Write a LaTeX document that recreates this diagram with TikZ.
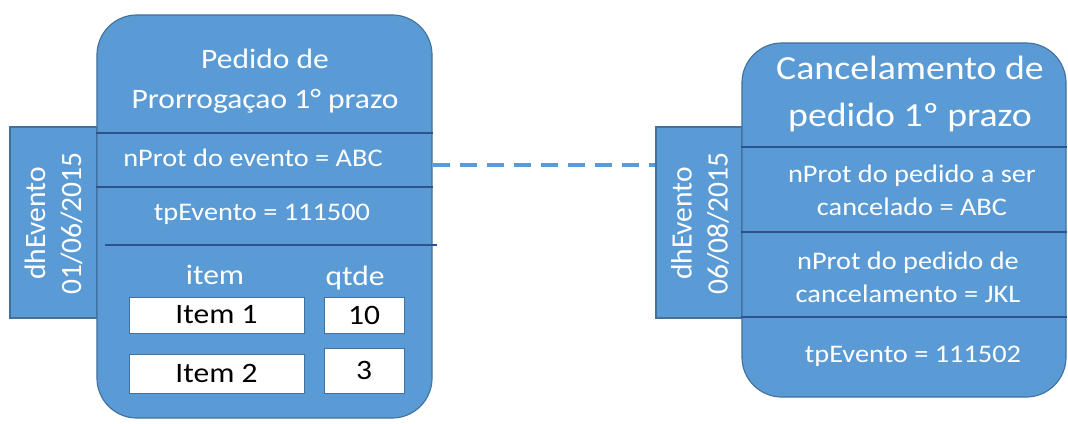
\documentclass[tikz,border=0pt]{standalone}
\usepackage{fontspec}
\setmainfont[FakeStretch=1.12]{Carlito}
\newfontfamily\sidefont{Carlito}
\usepackage{tikz}
\usetikzlibrary{calc}
\definecolor{boxblue}{HTML}{5B9BD5}
\definecolor{edgeblue}{HTML}{41719C}
\definecolor{lineblue}{HTML}{2F528F}
\tikzstyle{evbox} = [rectangle, draw=edgeblue, fill=boxblue, rounded corners=1cm, line width=0.8pt]
\tikzstyle{tab} = [rectangle, draw=edgeblue, fill=boxblue, line width=0.8pt]
\tikzstyle{cell} = [rectangle, draw=edgeblue, fill=white, text=black, inner sep=0pt, font=\fontsize{20}{24}\selectfont]
\tikzstyle{txt} = [text=white, align=center, inner sep=0pt]
\tikzstyle{sep} = [draw=lineblue, line width=1.6pt]
\tikzstyle{link} = [draw=boxblue, line width=2.5pt, dash pattern=on 0.425cm off 0.25cm]

\begin{document}
\begin{tikzpicture}[x=0.025cm,y=-0.025cm]
		\useasboundingbox (0,0) rectangle (1068,423);
		% pedido de prorrogacao
		\node[tab, minimum width=2.175cm, minimum height=4.775cm] (tabA) at (53.5,222.5) {};
		\node[evbox, minimum width=8.375cm, minimum height=10.075cm] (evA) at (264.5,216.5) {};
		\draw[sep] (evA.west |- 0,133) -- (evA.east |- 0,133);
		\draw[sep] (evA.west |- 0,187) -- (evA.east |- 0,187);
		\draw[sep] (105,245) -- (437,245);
		\node[txt, rotate=90, font=\sidefont\fontsize{21}{25.5}\selectfont] (dhA) at (53.5,223.5) {dhEvento\\01/06/2015};
		\node[txt, font=\fontsize{20}{28.5}\selectfont] (titleA) at (265,81.5) {Pedido de\\Prorrogaçao 1° prazo};
		\node[txt, font=\fontsize{18}{22}\selectfont] (protA) at (253,158) {nProt do evento = ABC};
		\node[txt, font=\fontsize{18}{22}\selectfont] (tpA) at (262,214) {tpEvento = 111500};
		\node[txt, font=\fontsize{20}{24}\selectfont] (itemH) at (215,275) {item};
		\node[txt, font=\fontsize{20}{24}\selectfont] (qtdeH) at (355,278) {qtde};
		\node[cell, minimum width=4.375cm, minimum height=0.9cm] (item1) at (216.5,315) {Item 1};
		\node[cell, minimum width=2cm, minimum height=0.9cm] (qtd1) at (364,315) {10};
		\node[cell, minimum width=4.375cm, minimum height=0.975cm] (item2) at (216.5,373.5) {Item 2};
		\node[cell, minimum width=2cm, minimum height=1.125cm] (qtd2) at (364,370.5) {3};
		% cancelamento de pedido
		\node[tab, minimum width=2.15cm, minimum height=4.775cm] (tabB) at (699,222.5) {};
		\node[evbox, minimum width=8.1cm, minimum height=8.85cm] (evB) at (904,220) {};
		\foreach \y in {147,232,317}
		\draw[sep] (evB.west |- 0,\y) -- (evB.east |- 0,\y);
		\node[txt, rotate=90, font=\sidefont\fontsize{21}{25.5}\selectfont] (dhB) at (700,223.5) {dhEvento\\06/08/2015};
		\node[txt, font=\fontsize{24}{33}\selectfont] (titleB) at (910,94) {Cancelamento de\\pedido 1º prazo};
		\node[txt, font=\fontsize{18}{23.5}\selectfont] (protB) at (912,190) {nProt do pedido a ser\\cancelado = ABC};
		\node[txt, font=\fontsize{18}{23.5}\selectfont] (protC) at (908,277.5) {nProt do pedido de\\cancelamento = JKL};
		\node[txt, font=\fontsize{18}{22}\selectfont] (tpB) at (913,356) {tpEvento = 111502};
		% ligacao entre os eventos
		\coordinate (linkA) at (evA.east |- 0,165);
		\draw[link] (linkA) -- (tabB.west |- linkA);
	\end{tikzpicture}
\end{document}
